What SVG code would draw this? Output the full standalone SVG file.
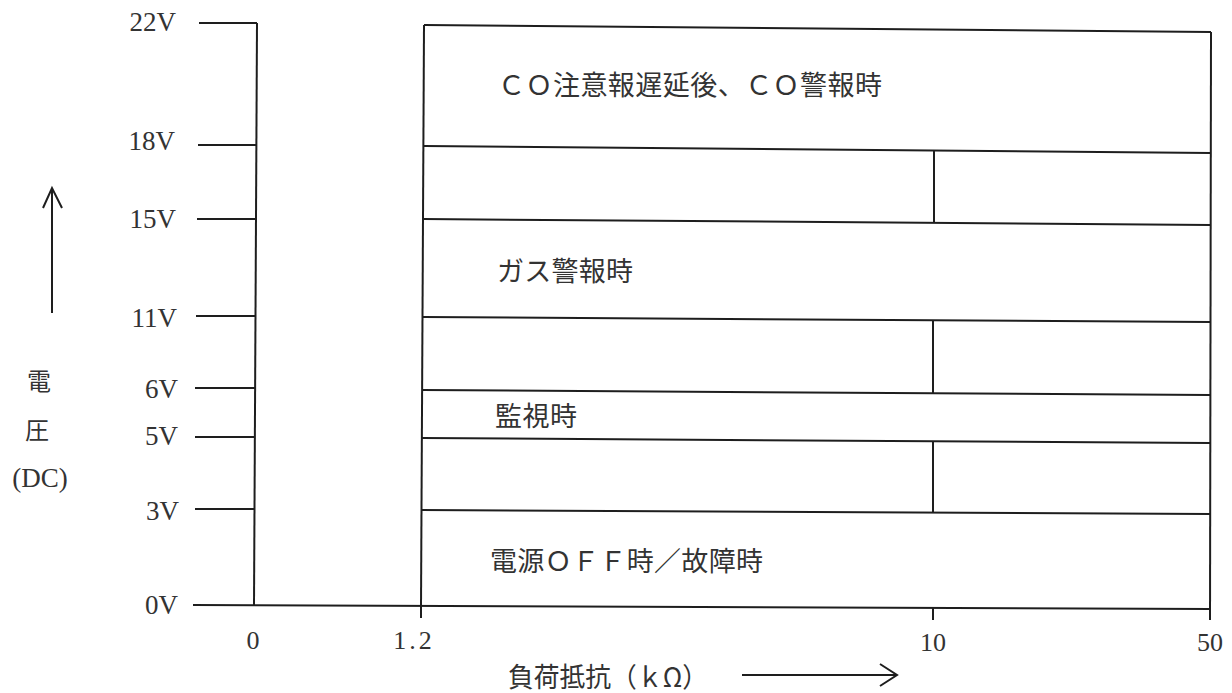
<svg xmlns="http://www.w3.org/2000/svg" width="1232" height="693" viewBox="0 0 1232 693">
<style>
.ln{stroke:#1e1e1e;stroke-width:2;fill:none;stroke-linecap:butt}
.ax{font-family:"Liberation Serif","DejaVu Serif",serif;font-size:27px;fill:#333}
.bx{font-family:"Liberation Serif","DejaVu Serif",serif;font-size:26px;fill:#333;text-anchor:middle}
.jp{font-family:"Noto Sans CJK JP","Noto Sans CJK SC",sans-serif;font-size:27px;fill:#333}
.vj{font-family:"Noto Sans CJK JP","Noto Sans CJK SC",sans-serif;font-size:24px;fill:#333;text-anchor:middle}
</style>
<rect width="1232" height="693" fill="#fff"/>

<g id="y-axis">
  <line class="ln" x1="257" y1="23" x2="254" y2="605"/>
  <line class="ln" x1="199" y1="23" x2="257" y2="23"/>
  <line class="ln" x1="198" y1="145" x2="257" y2="145"/>
  <line class="ln" x1="197" y1="219" x2="256" y2="219"/>
  <line class="ln" x1="196" y1="316" x2="256" y2="316"/>
  <line class="ln" x1="195" y1="388" x2="255" y2="388"/>
  <line class="ln" x1="195" y1="437" x2="255" y2="437"/>
  <line class="ln" x1="195" y1="509" x2="254" y2="509"/>
  <g text-anchor="end">
    <text class="ax" x="176" y="31">22V</text>
    <text class="ax" x="175" y="150">18V</text>
    <text class="ax" x="176" y="228">15V</text>
    <text class="ax" x="177" y="327">11V</text>
    <text class="ax" x="178" y="398">6V</text>
    <text class="ax" x="178" y="445">5V</text>
    <text class="ax" x="179" y="520">3V</text>
    <text class="ax" x="178" y="614">0V</text>
  </g>
</g>

<g id="y-title">
  <line class="ln" x1="52" y1="188" x2="52" y2="313"/>
  <polyline class="ln" points="43,208 52,188 62,208"/>
  <text class="vj" x="39" y="390">電</text>
  <text class="vj" x="37" y="439">圧</text>
  <text class="ax" x="40" y="487" text-anchor="middle" font-size="28">(DC)</text>
</g>

<g id="x-axis">
  <line class="ln" x1="193" y1="605" x2="1211" y2="609"/>
  <line class="ln" x1="421" y1="605" x2="421" y2="618"/>
  <line class="ln" x1="933" y1="607" x2="933" y2="620"/>
  <text class="bx" x="253" y="649">0</text>
  <text class="bx" x="414" y="649" letter-spacing="3">1.2</text>
  <text class="bx" x="933" y="651">10</text>
  <text class="bx" x="1210" y="651">50</text>
  <text class="jp" x="508" y="687" font-size="30" textLength="200" lengthAdjust="spacingAndGlyphs">負荷抵抗（ｋΩ）</text>
  <line class="ln" x1="742" y1="675" x2="896" y2="675"/>
  <polyline class="ln" points="880,664 897,675 880,686"/>
</g>

<g id="chart-frame">
  <line class="ln" x1="424" y1="25" x2="421" y2="605"/>
  <line class="ln" x1="1211" y1="32" x2="1210" y2="620"/>
  <line class="ln" x1="424" y1="25" x2="1211" y2="32"/>
</g>

<g id="band-co-alarm">
  <line class="ln" x1="424" y1="146" x2="1211" y2="153"/>
  <text class="jp" x="498" y="95" textLength="384" lengthAdjust="spacing">ＣＯ注意報遅延後、ＣＯ警報時</text>
</g>

<g id="band-18-15">
  <line class="ln" x1="934" y1="151" x2="934" y2="223"/>
  <line class="ln" x1="423" y1="219" x2="1211" y2="225"/>
</g>

<g id="band-gas-alarm">
  <text class="jp" x="497" y="281" textLength="136" lengthAdjust="spacing">ガス警報時</text>
  <line class="ln" x1="423" y1="317" x2="1210" y2="322"/>
</g>

<g id="band-11-6">
  <line class="ln" x1="933" y1="320" x2="933" y2="393"/>
  <line class="ln" x1="422" y1="390" x2="1210" y2="395"/>
</g>

<g id="band-monitor">
  <text class="jp" x="495" y="426" textLength="82" lengthAdjust="spacing">監視時</text>
  <line class="ln" x1="422" y1="438" x2="1210" y2="443"/>
</g>

<g id="band-5-3">
  <line class="ln" x1="933" y1="441" x2="933" y2="513"/>
  <line class="ln" x1="421" y1="510" x2="1210" y2="514"/>
</g>

<g id="band-off">
  <text class="jp" x="490" y="571" textLength="273" lengthAdjust="spacing">電源ＯＦＦ時／故障時</text>
</g>
</svg>
